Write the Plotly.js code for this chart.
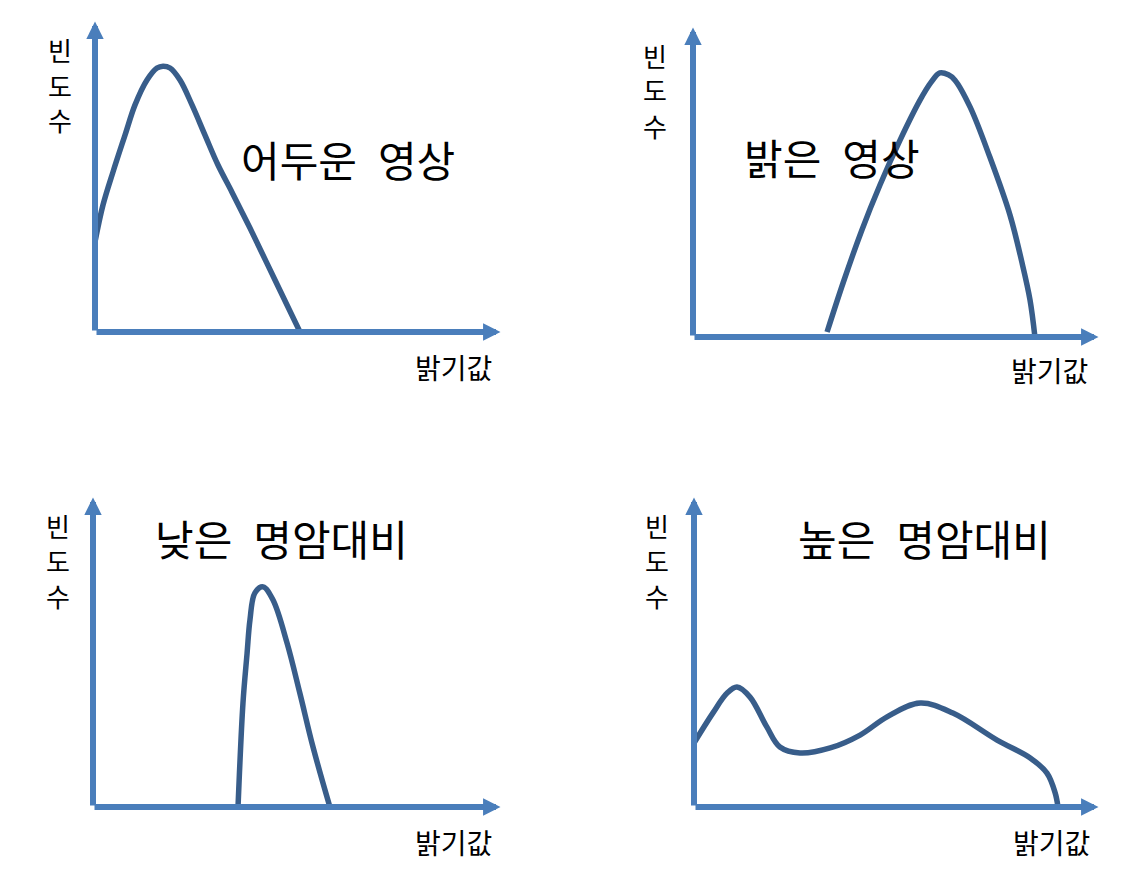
<!DOCTYPE html>
<html>
<head>
<meta charset="utf-8">
<script src="https://cdn.plot.ly/plotly-3.0.1.min.js"></script>
<style>html,body{margin:0;padding:0;background:#fff;}#chart{width:1138px;height:889px;}</style>
</head>
<body>
<div id="chart"></div>
<script>
// Panel titles and axis labels
var panelTitles = ["어두운\u2002영상", "밝은\u2002영상", "낮은\u2002명암대비", "높은\u2002명암대비"];
var yLabelChars = ["빈", "도", "수"];
var xLabel = "밝기값";

// Histogram curves (brightness 0-100 along x axis, frequency 0-100 along y axis)
var darkX   = [0, 1.95, 4.39, 7.32, 9.76, 12.68, 15.12, 16.59, 18.29, 20.73, 23.66, 26.83, 30.0, 33.41, 37.8, 43.9, 50.0];
var darkY   = [28.6, 40.3, 50.8, 62.5, 72.1, 80.0, 83.8, 84.4, 83.8, 80.0, 72.1, 62.5, 53.0, 44.4, 33.0, 16.5, 0];

var brightX = [32.7, 36.6, 41.2, 45.6, 50.5, 55.4, 58.0, 60.2, 62.3, 63.9, 67.6, 72.4, 77.3, 80.2, 82.2, 83.4];
var brightY = [1.6, 17.2, 34.1, 48.4, 62.7, 75.5, 81.0, 84.1, 83.5, 81.8, 73.2, 57.3, 38.9, 23.9, 11.8, 0];

var lowX    = [35.2, 36.4, 37.4, 38.1, 39.3, 41.3, 43.7, 47.1, 50.2, 53.4, 57.5];
var lowY    = [0, 33.1, 49.0, 59.6, 68.2, 70.1, 65.9, 52.2, 36.3, 19.1, 0];

var highX   = [0, 4.6, 8.1, 10.5, 13.7, 17.8, 21.0, 25.9, 33.3, 40.6, 47.2, 55.3, 63.3, 74.1, 82.2, 86.3, 88.3, 89.0];
var highY   = [20.4, 29.9, 36.3, 38.2, 35.0, 25.5, 19.1, 17.2, 18.8, 22.9, 28.7, 33.1, 29.9, 21.3, 15.6, 10.8, 4.5, 0];

var W = 1138, H = 889;
var curveColor = "#385D8A";
var axisColor = "#4A7EBB";
var FONT = "Noto Sans CJK KR, Noto Sans, sans-serif";

// panel geometry in pixels: origin and arrow tips, label positions
var panels = [
  {ox: 95,  oy: 332, tx: 505,  ty: 17,  xs: [darkX, darkY],     ylx: 60,  yly: [50, 85, 120],   t: [348, 158], xl: [453, 367]},
  {ox: 693, oy: 337, tx: 1103, ty: 23,  xs: [brightX, brightY], ylx: 655, yly: [55, 90, 125],   t: [832, 156], xl: [1049, 370]},
  {ox: 93,  oy: 807, tx: 505,  ty: 493, xs: [lowX, lowY],       ylx: 58,  yly: [525, 560, 595], t: [281, 537], xl: [453, 842]},
  {ox: 694, oy: 807, tx: 1103, ty: 493, xs: [highX, highY],     ylx: 657, yly: [525, 560, 595], t: [924, 537], xl: [1051, 842]}
];

var data = [];
var layout = {
  width: W, height: H,
  margin: {l: 0, r: 0, t: 0, b: 0},
  paper_bgcolor: "#ffffff",
  plot_bgcolor: "rgba(0,0,0,0)",
  showlegend: false,
  annotations: [],
  font: {family: FONT, color: "#000"}
};

var AW = 6, AS = 0.58, tipPx = 1.3 * AW * AS;

panels.forEach(function (p, i) {
  var n = i === 0 ? "" : String(i + 1);
  var xa = "xaxis" + n, ya = "yaxis" + n;
  var xr = "x" + n, yr = "y" + n;
  var lenX = p.tx - p.ox, lenY = p.oy - p.ty;
  layout[xa] = {domain: [p.ox / W, p.tx / W], range: [0, 100], visible: false, fixedrange: true};
  layout[ya] = {domain: [(H - p.oy) / H, (H - p.ty) / H], range: [0, 100], visible: false, fixedrange: true};
  data.push({
    type: "scatter", mode: "lines", x: p.xs[0], y: p.xs[1], xaxis: xr, yaxis: yr,
    line: {color: curveColor, width: 5.5, shape: "spline", smoothing: 1},
    hoverinfo: "skip"
  });
  // axis arrows
  var ex = 100 - tipPx / lenX * 100, ey = 100 - tipPx / lenY * 100;
  layout.annotations.push({
    xref: xr, yref: yr, axref: xr, ayref: yr, x: ex, y: 0, ax: 0, ay: 0,
    showarrow: true, arrowhead: 2, arrowsize: AS, arrowwidth: AW, arrowcolor: axisColor, text: "", standoff: 0
  });
  layout.annotations.push({
    xref: xr, yref: yr, axref: xr, ayref: yr, x: 0, y: ey, ax: 0, ay: 0,
    showarrow: true, arrowhead: 2, arrowsize: AS, arrowwidth: AW, arrowcolor: axisColor, text: "", standoff: 0
  });
  // vertical y label, one character per line
  yLabelChars.forEach(function (ch, k) {
    layout.annotations.push({
      xref: "paper", yref: "paper", x: p.ylx / W, y: 1 - p.yly[k] / H, xanchor: "center", yanchor: "middle",
      text: ch, showarrow: false, font: {family: FONT, size: 26, color: "#000"}, borderpad: 0
    });
  });
  layout.annotations.push({
    xref: "paper", yref: "paper", x: p.xl[0] / W, y: 1 - p.xl[1] / H, xanchor: "center", yanchor: "middle",
    text: xLabel, showarrow: false, font: {family: FONT, size: 28, color: "#000"}
  });
  layout.annotations.push({
    xref: "paper", yref: "paper", x: p.t[0] / W, y: 1 - p.t[1] / H, xanchor: "center", yanchor: "middle",
    text: panelTitles[i], showarrow: false, font: {family: FONT, size: 42, color: "#000"}
  });
});

Plotly.newPlot("chart", data, layout, {displayModeBar: false, staticPlot: true});
</script>
</body>
</html>
